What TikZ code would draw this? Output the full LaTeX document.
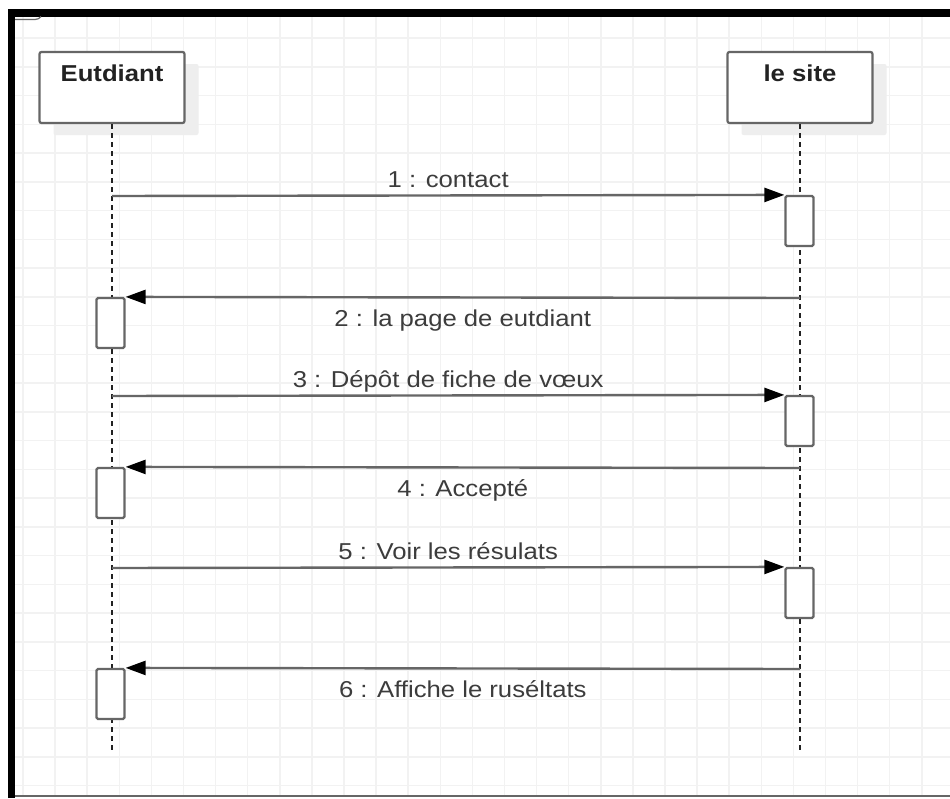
\documentclass[tikz,border=0pt]{standalone}
\usepackage{fontspec}
\setmainfont{Liberation Sans}
\usetikzlibrary{arrows.meta,shadows}
\definecolor{gridc}{HTML}{F2F2F2}
\definecolor{linec}{HTML}{666666}
\definecolor{txtc}{HTML}{3C3C3C}
\definecolor{boldc}{HTML}{222222}
\definecolor{shadc}{HTML}{EEEEEE}
\newcommand{\sx}[1]{\scalebox{1.117}[1]{#1}}
\begin{document}
\begin{tikzpicture}[x=1pt,y=-1pt,
  gridline/.style={draw=gridc, line width=1.5pt},
  lifebox/.style={draw=linec, line width=2.2pt, fill=white, rounded corners=2pt,
    minimum width=145pt, minimum height=71pt, inner sep=0pt,
    drop shadow={shadow xshift=14pt, shadow yshift=-12pt, fill=shadc, opacity=1}},
  boxlabel/.style={anchor=base, inner sep=0pt, text=boldc, font=\fontsize{23}{27}\selectfont\bfseries},
  actbox/.style={draw=linec, line width=2.2pt, fill=white, rounded corners=1.5pt,
    minimum width=28pt, minimum height=50pt, inner sep=0pt},
  lifeline/.style={draw=boldc, line width=2pt, dash pattern=on 5pt off 4pt},
  msg/.style={draw=linec, line width=2.4pt,
    -{Triangle[length=20pt, width=14pt, color=black, fill=black]}},
  lblabove/.style={midway, anchor=base, inner sep=0pt, yshift=8pt, text=txtc, font=\fontsize{23}{27}\selectfont},
  lblbelow/.style={midway, anchor=base, inner sep=0pt, yshift=-29pt, text=txtc, font=\fontsize{23}{27}\selectfont}
]
\useasboundingbox (0,0) rectangle (950,798);
\fill[white] (0,0) rectangle (950,798);
% grid
\foreach \i in {0,...,29} \draw[gridline] ({23+32.1*\i},17) -- ({23+32.1*\i},795);
\foreach \j in {1,...,27} \draw[gridline] (15,{9.25+28.75*\j}) -- (950,{9.25+28.75*\j});
% frame
\draw[black, line width=7.5pt] (11.3,798) -- (11.3,12.8) -- (950,12.8);
\draw[linec, line width=1.5pt] (15,796) -- (950,796);
\draw[linec, line width=1.2pt] (15,19.5) -- (35,19.5) to[out=0,in=-130] (41,16.5);
% lifeline heads
\node[lifebox] (e) at (112,87.5) {};
\node[lifebox] (s) at (800,87.5) {};
\node[boxlabel] (et) at ([yshift=-31pt]e.north) {\sx{Eutdiant}};
\node[boxlabel] (st) at ([yshift=-31pt]s.north) {\sx{le site}};
% lifelines
\coordinate (eend) at (112,753);
\coordinate (send) at (800,753);
\draw[lifeline] (e.south) -- (eend);
\draw[lifeline] (s.south) -- (send);
% activations
\node[actbox] (a1) at (799.5,221) {};
\node[actbox] (a2) at (110.5,323) {};
\node[actbox] (a3) at (799.5,421) {};
\node[actbox] (a4) at (110.5,493) {};
\node[actbox] (a5) at (799.5,593) {};
\node[actbox] (a6) at (110.5,694) {};
% message start points
\coordinate (m1) at (112,196);
\coordinate (m2) at (800,298);
\coordinate (m3) at (112,396);
\coordinate (m4) at (800,468);
\coordinate (m5) at (112,568);
\coordinate (m6) at (800,669);
% messages
\draw[msg] (m1) -- node[lblabove] (l1) {\sx{1 : contact}} (a1.north west);
\draw[msg] (m2) -- node[lblbelow] (l2) {\sx{2 : la page de eutdiant}} (a2.north east);
\draw[msg] (m3) -- node[lblabove] (l3) {\sx{3 : Dépôt de fiche de vœux}} (a3.north west);
\draw[msg] (m4) -- node[lblbelow] (l4) {\sx{4 : Accepté}} (a4.north east);
\draw[msg] (m5) -- node[lblabove] (l5) {\sx{5 : Voir les résulats}} (a5.north west);
\draw[msg] (m6) -- node[lblbelow] (l6) {\sx{6 : Affiche le ruséltats}} (a6.north east);
\end{tikzpicture}
\end{document}
